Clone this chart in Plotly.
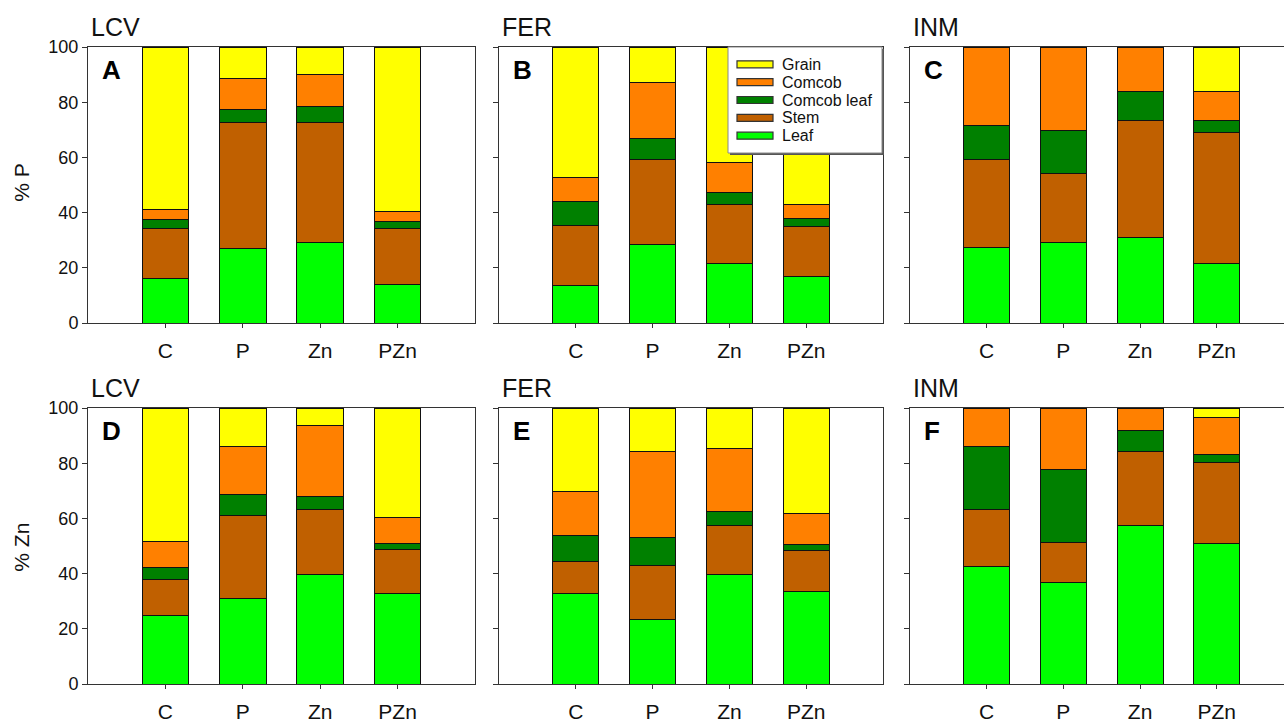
import plotly.graph_objects as go

W, H = 1284, 722

categories = ["C", "P", "Zn", "PZn"]
systems = ["LCV", "FER", "INM"]
nutrients = ["% P", "% Zn"]
panel_letters = [["A", "B", "C"], ["D", "E", "F"]]
components = ["Leaf", "Stem", "Comcob leaf", "Comcob", "Grain"]
colors = {"Leaf": "#00FF00", "Stem": "#C06000", "Comcob leaf": "#008000",
          "Comcob": "#FF8000", "Grain": "#FFFF00"}

# values per system [LCV, FER, INM], each over categories [C, P, Zn, PZn]
P_leaf = [[16.0, 27.0, 29.1, 13.9], [13.5, 28.4, 21.4, 16.8], [27.5, 29.1, 30.8, 21.7]]
P_stem = [[18.1, 45.5, 43.4, 20.2], [21.8, 30.9, 21.4, 18.2], [31.8, 25.2, 42.5, 47.5]]
P_comcob_leaf = [[3.3, 4.9, 6.0, 2.6], [8.8, 7.6, 4.5, 2.8], [12.3, 15.4, 10.4, 4.1]]
P_comcob = [[3.7, 11.1, 11.7, 3.6], [8.7, 20.1, 10.7, 5.1], [28.4, 30.3, 16.3, 10.4]]
P_grain = [[58.9, 11.5, 9.8, 59.7], [47.2, 13.0, 42.0, 57.1], [0.0, 0.0, 0.0, 16.3]]

Zn_leaf = [[24.9, 31.0, 39.7, 32.7], [32.7, 23.3, 39.7, 33.6], [42.6, 36.8, 57.6, 51.0]]
Zn_stem = [[12.8, 30.2, 23.5, 16.1], [11.6, 19.7, 17.8, 14.8], [20.7, 14.5, 26.7, 29.1]]
Zn_comcob_leaf = [[4.4, 7.4, 4.7, 2.2], [9.6, 10.0, 4.9, 2.1], [22.7, 26.5, 7.5, 3.2]]
Zn_comcob = [[9.6, 17.4, 25.6, 9.5], [16.0, 31.4, 23.1, 11.1], [14.0, 22.2, 8.2, 13.4]]
Zn_grain = [[48.3, 14.0, 6.5, 39.5], [30.1, 15.6, 14.5, 38.4], [0.0, 0.0, 0.0, 3.3]]

data = [
    {"Leaf": P_leaf, "Stem": P_stem, "Comcob leaf": P_comcob_leaf, "Comcob": P_comcob, "Grain": P_grain},
    {"Leaf": Zn_leaf, "Stem": Zn_stem, "Comcob leaf": Zn_comcob_leaf, "Comcob": Zn_comcob, "Grain": Zn_grain},
]

FONT = "Arial, Liberation Sans, sans-serif"
TXT = "#111111"
LINE = "#333333"

# panel pixel boxes (left, right) and (top, bottom)
col_px = [(88, 475), (499, 883), (910, 1284)]
col_range = [[-1, 4], [-1, 4], [-1, 3.877]]
row_px = [(47, 323), (408, 684)]

def px(x):
    return x / W

def py(y):
    return 1 - y / H

fig = go.Figure()
layout = dict(
    width=W, height=H, margin=dict(l=0, r=0, t=0, b=0, autoexpand=False),
    paper_bgcolor="white", plot_bgcolor="white", barmode="stack",
    showlegend=False, font=dict(family=FONT, color=TXT),
    bargap=0.4,
)
annotations = []
shapes = []

idx = 0
for r in range(2):
    for c in range(3):
        idx += 1
        xa = "x" if idx == 1 else f"x{idx}"
        ya = "y" if idx == 1 else f"y{idx}"
        for comp in components:
            fig.add_trace(go.Bar(
                x=list(range(len(categories))),
                y=data[r][comp][c],
                name=comp, width=0.6,
                marker=dict(color=colors[comp], line=dict(color="#111111", width=1)),
                xaxis=xa, yaxis=ya, showlegend=False,
            ))
        l, rr = col_px[c]
        t, b = row_px[r]
        layout["xaxis" if idx == 1 else f"xaxis{idx}"] = dict(
            domain=[px(l), px(rr)], range=col_range[c], anchor=ya,
            tickvals=list(range(len(categories))), ticktext=categories,
            ticks="outside", ticklen=4, tickcolor=LINE, showline=True,
            linecolor=LINE, linewidth=1, mirror=True, showgrid=False,
            zeroline=False, tickfont=dict(size=21, family=FONT, color=TXT),
            ticklabelstandoff=5, fixedrange=True, automargin=False,
        )
        layout["yaxis" if idx == 1 else f"yaxis{idx}"] = dict(
            domain=[py(b), py(t)], range=[0, 100], anchor=xa,
            tickvals=[0, 20, 40, 60, 80, 100], ticks="outside", ticklen=5,
            tickcolor=LINE, showline=True, linecolor=LINE, linewidth=1,
            mirror=True, showgrid=False, zeroline=False,
            showticklabels=(c == 0), tickfont=dict(size=18, family=FONT, color=TXT),
            fixedrange=True, automargin=False,
        )
        # system title
        annotations.append(dict(
            text=systems[c], xref="paper", yref="paper",
            x=px(l + 1), y=py(t - 4), xanchor="left", yanchor="bottom",
            showarrow=False, font=dict(size=25, family=FONT, color=TXT),
        ))
        # panel letter
        annotations.append(dict(
            text=f"<b>{panel_letters[r][c]}</b>", xref="paper", yref="paper",
            x=px(l + 12), y=py(t + 6), xanchor="left", yanchor="top",
            showarrow=False, font=dict(size=26, family=FONT, color="#000000"),
        ))

# y-axis titles
for r, ycen in enumerate([181.7, 546.7]):
    annotations.append(dict(
        text=nutrients[r], xref="paper", yref="paper", x=px(22), y=py(ycen),
        xanchor="center", yanchor="middle", textangle=-90, showarrow=False,
        font=dict(size=21, family=FONT, color=TXT),
    ))

# legend (drawn manually to mimic the wide outlined swatches)
lx0, lx1, ly0, ly1 = 728, 882, 47, 153
shapes.append(dict(type="rect", xref="paper", yref="paper",
                   x0=px(lx0 + 2), x1=px(lx1 + 2), y0=py(ly1 + 2), y1=py(ly0 + 2),
                   fillcolor="#555555", line=dict(width=0), layer="above"))
shapes.append(dict(type="rect", xref="paper", yref="paper",
                   x0=px(lx0), x1=px(lx1), y0=py(ly1), y1=py(ly0),
                   fillcolor="white", line=dict(color="#888888", width=1), layer="above"))
legend_order = ["Grain", "Comcob", "Comcob leaf", "Stem", "Leaf"]
for i, comp in enumerate(legend_order):
    yc = 64.3 + i * 17.85
    shapes.append(dict(type="rect", xref="paper", yref="paper",
                       x0=px(737), x1=px(773), y0=py(yc + 3.5), y1=py(yc - 3.5),
                       fillcolor=colors[comp], line=dict(color="#333333", width=1.2),
                       layer="above"))
    annotations.append(dict(
        text=comp, xref="paper", yref="paper", x=px(780), y=py(yc),
        xanchor="left", yanchor="middle", showarrow=False,
        font=dict(size=16, family=FONT, color=TXT),
    ))

layout["annotations"] = annotations
layout["shapes"] = shapes
fig.update_layout(**layout)
fig.write_html("out.html", config={"displayModeBar": False},
               post_script="document.body.style.margin='0px';document.body.style.overflow='hidden';")
